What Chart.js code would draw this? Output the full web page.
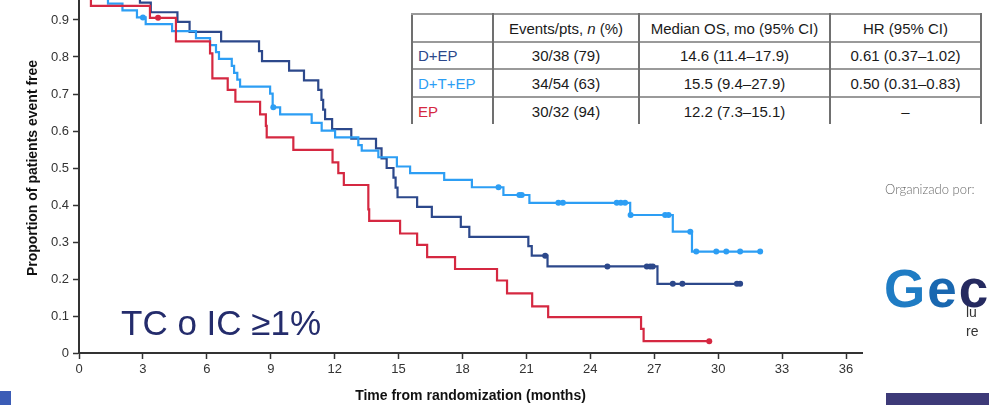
<!DOCTYPE html>
<html>
<head>
<meta charset="utf-8">
<script src="https://cdn.jsdelivr.net/npm/chart.js@4.4.1/dist/chart.umd.min.js"></script>
<style>
  html, body { margin: 0; padding: 0; background: #fff; }
  #stage { position: relative; width: 989px; height: 405px; overflow: hidden; background: #fff;
           font-family: "Liberation Sans", Arial, sans-serif; }
  #km { position: absolute; left: 0; top: -17px; }
  #subset { position: absolute; left: 121px; top: 305px; font-size: 35px; line-height: 35px;
            color: #242c6c; white-space: nowrap; }
  #summary { position: absolute; left: 411px; top: 13px; border-collapse: collapse; background: #fff;
             font-size: 15px; color: #1a1a1a; table-layout: fixed; }
  #summary td { border-left: 2px solid #707070; border-right: 2px solid #707070;
             border-top: 2px solid #9a9a9a; padding: 0 3px; font-weight: normal; text-align: center;
             white-space: nowrap; overflow: hidden; }
  #summary tr:last-child td { border-bottom: none; }
  #summary td.lab { text-align: left; padding-left: 5px; }
  #org { position: absolute; left: 885px; top: 181px; font-family: Lato, "Noto Sans", sans-serif;
         font-weight: 300; font-size: 13px; color: #6a6a6a; white-space: nowrap; }
  #logo { position: absolute; left: 884px; top: 258px; font-family: "Liberation Sans", Arial, sans-serif;
          font-weight: bold; font-size: 53px; line-height: 62px; white-space: nowrap; letter-spacing: 2px; }
  .tag { position: absolute; left: 966px; font-size: 14px; color: #333; white-space: nowrap; }
  #barL { position: absolute; left: 0; top: 391px; width: 11px; height: 14px; background: #3b5cb6; }
  #barR { position: absolute; left: 886px; top: 393px; width: 103px; height: 12px; background: #3d3a78; }
</style>
</head>
<body>
<div id="stage">
  <canvas id="km" width="989" height="422"></canvas>
  <div id="subset">TC o IC ≥1%</div>
  <table id="summary"></table>
  <div id="org">Organizado por:</div>
  <div id="logo"><span style="color:#1f7cc4">G</span><span style="color:#1967b0">e</span><span style="color:#252a60">c</span></div>
  <div class="tag" style="top:304px">lu</div>
  <div class="tag" style="top:323px">re</div>
  <div id="barL"></div>
  <div id="barR"></div>
</div>
<script>
// Axis ticks
const xTicks = [0, 3, 6, 9, 12, 15, 18, 21, 24, 27, 30, 33, 36];
const yTicks = [0, 0.1, 0.2, 0.3, 0.4, 0.5, 0.6, 0.7, 0.8, 0.9];
const yTickLabels = ['0', '0.1', '0.2', '0.3', '0.4', '0.5', '0.6', '0.7', '0.8', '0.9'];

// D+EP: event times (months) and survival after each step
const dEpTime = [0, 1.5, 2.86, 3.37, 4.62, 5.19, 6.67, 8.45, 8.59, 9.86,
                 10.56, 11.23, 11.38, 11.46, 11.55, 11.88, 12.78, 13.94, 14.20, 14.44,
                 14.76, 14.86, 14.95, 15.87, 16.56, 17.92, 18.32, 21.09, 21.25, 21.99,
                 27.15, 31.03];
const dEpSurv = [1, 0.974, 0.947, 0.921, 0.895, 0.868, 0.842, 0.816, 0.789, 0.763,
                 0.737, 0.711, 0.684, 0.658, 0.632, 0.605, 0.579, 0.553, 0.526, 0.500,
                 0.474, 0.447, 0.421, 0.395, 0.368, 0.341, 0.314, 0.289, 0.263, 0.234,
                 0.187, 0.187];
const dEpCensor = [21.88, 24.80, 26.65, 26.81, 26.93, 27.87, 28.32, 30.88, 31.03];

// D+T+EP
const dtEpTime = [0, 0.5, 1.0, 1.36, 2.04, 2.72, 3.13, 4.37, 5.49, 6.15,
                  6.43, 6.57, 7.17, 7.28, 7.43, 7.56, 8.97, 9.09, 9.44, 10.92,
                  11.39, 12.02, 13.11, 13.27, 14.05, 14.92, 15.54, 17.14, 18.44, 19.92,
                  21.14, 25.87, 27.87, 28.77, 31.97];
const dtEpSurv = [1, 0.981, 0.963, 0.944, 0.926, 0.907, 0.889, 0.870, 0.851, 0.832,
                  0.813, 0.795, 0.776, 0.757, 0.739, 0.720, 0.701, 0.664, 0.645, 0.622,
                  0.601, 0.583, 0.562, 0.547, 0.529, 0.504, 0.486, 0.468, 0.448, 0.427,
                  0.406, 0.373, 0.328, 0.274, 0.274];
const dtEpCensor = [3.00, 9.12, 19.69, 20.67, 20.78, 22.50, 22.71, 25.24, 25.43, 25.63,
                    25.89, 27.51, 27.67, 28.69, 28.97, 29.91, 30.38, 31.03, 31.97];

// EP
const epTime = [0, 0.3, 0.56, 3.33, 4.55, 6.15, 6.26, 6.98, 7.34, 8.50,
                8.77, 8.81, 10.06, 11.90, 12.17, 12.43, 13.58, 13.62, 15.07, 15.87,
                16.34, 17.65, 19.62, 20.09, 21.27, 22.02, 26.38, 26.50, 29.58];
const epSurv = [1, 0.969, 0.938, 0.906, 0.842, 0.810, 0.742, 0.711, 0.679, 0.645,
                0.614, 0.583, 0.549, 0.515, 0.486, 0.454, 0.388, 0.357, 0.323, 0.292,
                0.259, 0.227, 0.196, 0.161, 0.126, 0.097, 0.065, 0.032, 0.032];
const epCensor = [3.71, 29.58];

// Summary table
const tableHead = ['', 'Events/pts, n (%)', 'Median OS, mo (95% CI)', 'HR (95% CI)'];
const armNames = ['D+EP', 'D+T+EP', 'EP'];
const armEvents = ['30/38 (79)', '34/54 (63)', '30/32 (94)'];
const armMedian = ['14.6 (11.4–17.9)', '15.5 (9.4–27.9)', '12.2 (7.3–15.1)'];
const armHR = ['0.61 (0.37–1.02)', '0.50 (0.31–0.83)', '–'];

const NAVY = '#2c488b';
const SKY = '#2d9ef4';
const RED = '#d52841';
const armColors = [NAVY, SKY, RED];

function stepPoints(t, s) {
  return t.map((x, i) => ({ x: x, y: s[i] }));
}
function levelAt(t, s, when) {
  let v = s[0];
  for (let i = 0; i < t.length; i++) if (t[i] <= when) v = s[i];
  return v;
}
function censorPoints(c, t, s) {
  return c.map(x => ({ x: x, y: levelAt(t, s, x) }));
}
function curve(points, color) {
  return { data: points, borderColor: color, backgroundColor: color, borderWidth: 2.2,
           stepped: true, pointRadius: 0, pointHoverRadius: 0, fill: false, tension: 0 };
}
function marks(points, color) {
  return { data: points, showLine: false, borderColor: color, backgroundColor: color,
           pointRadius: 3, pointHoverRadius: 3, pointBorderWidth: 0, pointStyle: 'circle' };
}

// table
(function buildTable() {
  const tbl = document.getElementById('summary');
  const widths = [81, 146, 191, 151];
  const heights = [28, 27, 28, 27];
  const head = document.createElement('tr');
  head.style.height = heights[0] + 'px';
  tableHead.forEach((h, i) => {
    const c = document.createElement('td');
    c.style.width = (widths[i] - 8) + 'px';
    c.innerHTML = h.replace(' n ', ' <i>n</i> ');
    head.appendChild(c);
  });
  tbl.appendChild(head);
  armNames.forEach((name, r) => {
    const tr = document.createElement('tr');
    tr.style.height = heights[r + 1] + 'px';
    [name, armEvents[r], armMedian[r], armHR[r]].forEach((v, i) => {
      const c = document.createElement('td');
      c.textContent = v;
      if (i === 0) { c.className = 'lab'; c.style.color = armColors[r]; }
      tr.appendChild(c);
    });
    tbl.appendChild(tr);
  });
})();

const tickFont = { family: '"Liberation Sans", Arial, sans-serif', size: 13 };
const titleFont = { family: '"Liberation Sans", Arial, sans-serif', size: 14, weight: 'bold' };

new Chart(document.getElementById('km'), {
  type: 'line',
  data: {
    datasets: [
      curve(stepPoints(epTime, epSurv), RED),
      marks(censorPoints(epCensor, epTime, epSurv), RED),
      curve(stepPoints(dtEpTime, dtEpSurv), SKY),
      marks(censorPoints(dtEpCensor, dtEpTime, dtEpSurv), SKY),
      curve(stepPoints(dEpTime, dEpSurv), NAVY),
      marks(censorPoints(dEpCensor, dEpTime, dEpSurv), NAVY)
    ]
  },
  options: {
    responsive: false,
    animation: false,
    devicePixelRatio: 1,
    events: [],
    layout: { padding: { left: 0, top: 0, right: 127, bottom: 0 }, autoPadding: false },
    plugins: { legend: { display: false }, tooltip: { enabled: false } },
    scales: {
      x: {
        type: 'linear', min: 0, max: 36.75,
        afterBuildTicks: s => { s.ticks = xTicks.map(v => ({ value: v })); },
        afterFit: s => { s.height = 52; s.paddingLeft = 0; s.paddingRight = 0; },
        ticks: { font: tickFont, color: '#333', padding: 3, autoSkip: false, maxRotation: 0,
                 callback: v => String(v) },
        grid: { display: true, drawOnChartArea: false, drawTicks: true, tickLength: 6,
                tickColor: '#333', tickWidth: 1.5 },
        border: { display: true, color: '#333', width: 2 },
        title: { display: true, text: 'Time from randomization (months)', font: titleFont,
                 color: '#111', padding: { top: 0, bottom: 0 } }
      },
      y: {
        type: 'linear', min: 0, max: 1,
        afterBuildTicks: s => { s.ticks = yTicks.map(v => ({ value: v })); },
        afterFit: s => { s.width = 79; s.paddingTop = 0; s.paddingBottom = 0; },
        ticks: { font: tickFont, color: '#333', padding: 4, autoSkip: false,
                 callback: (v, i) => yTickLabels[i] },
        grid: { display: true, drawOnChartArea: false, drawTicks: true, tickLength: 6,
                tickColor: '#333', tickWidth: 1.5 },
        border: { display: true, color: '#333', width: 2 },
        title: { display: true, text: 'Proportion of patients event free', font: titleFont,
                 color: '#111', padding: { top: 25, bottom: 0 } }
      }
    }
  }
});
</script>
</body>
</html>
